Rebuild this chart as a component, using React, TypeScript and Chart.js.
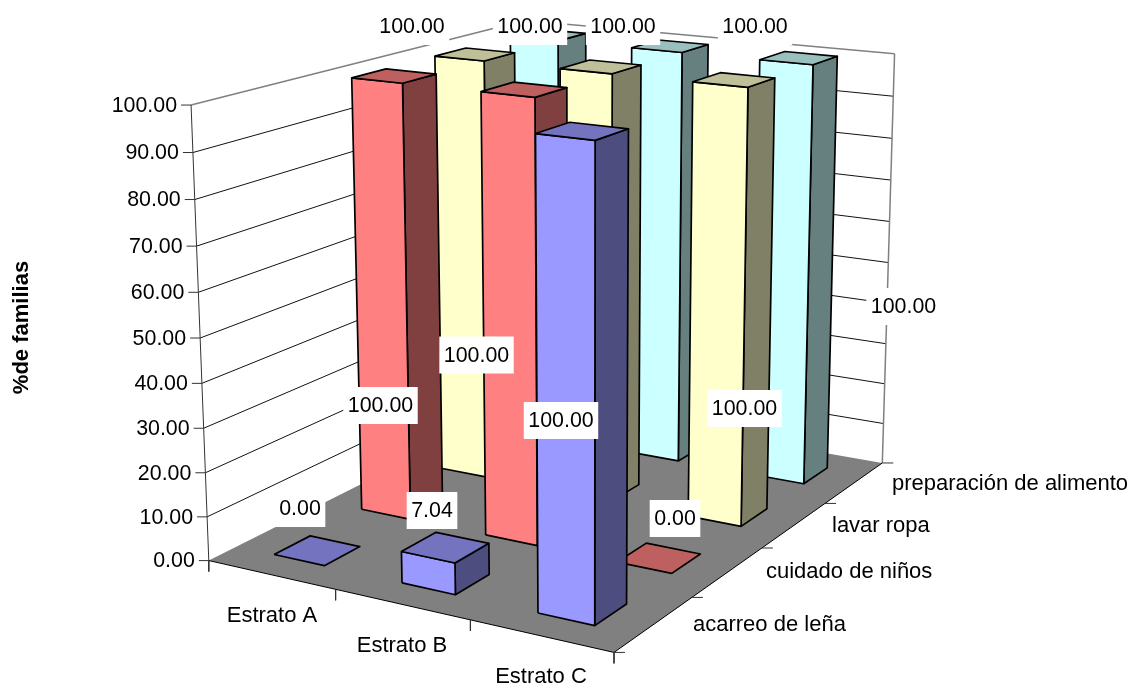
import React, { useEffect, useRef } from "react";
import { Chart, registerables } from "chart.js";

Chart.register(...registerables);

// ---- data ----
const strata = ["Estrato A", "Estrato B", "Estrato C"];
const seriesNames = ["acarreo de leña", "cuidado de niños", "lavar ropa", "preparación de alimento"];
const acarreo = [0.0, 7.04, 100.0];
const cuidado = [100.0, 100.0, 0.0];
const lavar = [100.0, 100.0, 100.0];
const preparacion = [100.0, 100.0, 100.0];
const valueTicks = [0, 10, 20, 30, 40, 50, 60, 70, 80, 90, 100];
const axisTitle = "%de familias";

// ---- styles ----
const W = 1131;
const H = 685;
const FONT = '"Liberation Sans", Arial, sans-serif';
const FS_TEXT = 22;
const FS_NUM = 21.4;
const faceColors = [
  { front: "#9999FF", top: "#7373BF", side: "#4D4D80" },
  { front: "#FF8080", top: "#BF6060", side: "#804040" },
  { front: "#FFFFCC", top: "#BFBF99", side: "#808066" },
  { front: "#CCFFFF", top: "#99BFBF", side: "#668080" },
];
const GAP_U = [0.3, 0.7];
const GAP_V = [0.3, 0.7];

// camera calibration: [strata pos, series pos, value, px, py]
const calib = [
  [0, 0, 0, 209.3, 560],
  [3, 0, 0, 613.3, 651.7],
  [3, 4, 0, 880, 462.7],
  [0, 4, 0, 528.6, 398.4],
  [0, 0, 100, 190.7, 105],
  [0, 4, 100, 522, 21.3],
  [3, 4, 100, 894, 52.7],
  [1, 0, 0, 335.7, 590],
  [2, 0, 0, 470, 620.7],
  [3, 1, 0, 692, 597.7],
  [3, 2, 0, 762, 547.7],
  [3, 3, 0, 823, 502],
  [0, 0, 10, 207.5, 516.7],
  [0, 0, 20, 205.5, 472.7],
  [0, 0, 80, 195, 200],
  [0, 0, 90, 193.3, 152.7],
  [2.3, 0.3, 0, 537.3, 612.7],
  [2.7, 0.3, 0, 594, 625],
  [2.7, 0.7, 0, 626, 604],
  [2.3, 0.3, 100, 537, 133],
  [2.7, 0.3, 100, 596, 140],
  [2.7, 0.7, 100, 629.3, 128.3],
  [2.3, 0.7, 100, 570.7, 122.3],
  [0.3, 1.3, 100, 351.7, 77.7],
  [0.7, 1.3, 100, 402.3, 83.3],
  [0.7, 1.7, 100, 436, 75],
  [0.3, 1.7, 100, 385.7, 69],
  [0.3, 1.3, 0, 361, 509.3],
  [2.3, 3.3, 100, 759.3, 60],
  [2.7, 3.3, 100, 813.3, 65],
  [2.7, 3.7, 100, 836.7, 56.7],
  [2.3, 3.7, 100, 785, 51.7],
  [2.7, 3.3, 0, 801.7, 483.3],
  [2.7, 3.7, 0, 825, 468.3],
  [2.3, 3.3, 0, 766.7, 477.7],
  [2.3, 2.3, 100, 692.7, 81],
  [2.7, 2.3, 100, 748.3, 87.3],
  [2.7, 2.7, 100, 775.7, 78.3],
  [2.3, 2.7, 100, 720, 72.3],
  [2.3, 2.3, 0, 687.3, 518.3],
  [2.7, 2.3, 0, 740, 526],
  [2.7, 2.7, 0, 765.7, 509],
  [0.3, 0.3, 0, 273, 554.3],
  [0.7, 0.3, 0, 324.3, 565.7],
  [0.7, 0.7, 0, 359.3, 546.7],
  [0.3, 0.7, 0, 310, 536],
];

// label box centres per [series][stratum]
const labelCentres = [
  [[300, 508.5], [432, 510.5], [561, 420.5]],
  [[380.5, 405.5], [476.5, 355], [675, 518.5]],
  [[412, 26.5], [530, 26.5], [744.5, 408.5]],
  [[623, 26.5], [755, 26.5], [903.5, 306.5]],
];
const strataLabelPos = [[272, 615.5], [402, 645.5], [541, 676.5]];
const seriesLabelPos = [[693, 624.5], [766, 571.5], [832, 525.5], [892, 483.5]];

function solve(A: number[][], b: number[]) {
  const n = b.length;
  const M = A.map((r, i) => [...r, b[i]]);
  for (let c = 0; c < n; c++) {
    let p = c;
    for (let r = c + 1; r < n; r++) if (Math.abs(M[r][c]) > Math.abs(M[p][c])) p = r;
    [M[c], M[p]] = [M[p], M[c]];
    for (let r = 0; r < n; r++) {
      if (r === c) continue;
      const f = M[r][c] / M[c][c];
      for (let k = c; k <= n; k++) M[r][k] -= f * M[c][k];
    }
  }
  return M.map((r, i) => r[n] / r[i]);
}

function fitCamera() {
  const rows: number[][] = [];
  const rhs: number[] = [];
  for (const [u, v, val, x, y] of calib) {
    const h = val / 100;
    rows.push([u, v, h, 1, 0, 0, 0, 0, -x * u, -x * v, -x * h]);
    rhs.push(x);
    rows.push([0, 0, 0, 0, u, v, h, 1, -y * u, -y * v, -y * h]);
    rhs.push(y);
  }
  const n = 11;
  const A = Array.from({ length: n }, (_, i) =>
    Array.from({ length: n }, (_, j) => rows.reduce((s, r) => s + r[i] * r[j], 0))
  );
  const b = Array.from({ length: n }, (_, i) => rows.reduce((s, r, k) => s + r[i] * rhs[k], 0));
  return solve(A, b);
}

const cam = fitCamera();
function project(u: number, v: number, val: number) {
  const h = val / 100;
  const w = cam[8] * u + cam[9] * v + cam[10] * h + 1;
  return {
    x: (cam[0] * u + cam[1] * v + cam[2] * h + cam[3]) / w,
    y: (cam[4] * u + cam[5] * v + cam[6] * h + cam[7]) / w,
  };
}

type Pt = { x: number; y: number };
function buildDatasets() {
  const out: any[] = [];
  const poly = (pts: Pt[], fill: string, stroke: string, width: number) =>
    out.push({
      data: [...pts, pts[0]],
      showLine: true,
      fill: "shape",
      backgroundColor: fill,
      borderColor: stroke,
      borderWidth: width,
      pointRadius: 0,
      tension: 0,
      borderJoinStyle: "round",
    });
  const line = (pts: Pt[], stroke: string, width = 1) =>
    out.push({
      data: pts,
      showLine: true,
      fill: false,
      borderColor: stroke,
      borderWidth: width,
      pointRadius: 0,
      tension: 0,
    });

  const nu = strata.length;
  const nv = seriesNames.length;
  // floor
  poly(
    [project(0, 0, 0), project(nu, 0, 0), project(nu, nv, 0), project(0, nv, 0)],
    "#808080",
    "rgba(0,0,0,0)",
    0
  );
  // wall gridlines
  for (const t of valueTicks) {
    if (t === 0) continue;
    const c = t === 100 ? "#808080" : "#111111";
    const w = t === 100 ? 1.5 : 1;
    line([project(0, 0, t), project(0, nv, t)], c, w);
    line([project(0, nv, t), project(nu, nv, t)], c, w);
  }
  const top = valueTicks[valueTicks.length - 1];
  line([project(nu, nv, 0), project(nu, nv, top)], "#808080", 1.5);
  line([project(0, 0, 0), project(0, 0, top)], "#333333", 1);
  // floor front edges
  line([project(0, 0, 0), project(nu, 0, 0)], "#000000", 1);
  line([project(nu, 0, 0), project(nu, nv, 0)], "#000000", 1);
  // value ticks
  for (const t of valueTicks) {
    const p = project(0, 0, t);
    line([p, { x: p.x - 10, y: p.y }], "#333333", 1);
  }
  // strata ticks
  for (let u = 0; u <= nu; u++) {
    const p = project(u, 0, 0);
    line([p, { x: p.x, y: p.y + 11 }], "#333333", 1);
  }
  // series ticks
  for (let v = 0; v <= nv; v++) {
    const p = project(nu, v, 0);
    line([p, { x: p.x + 11, y: p.y }], "#333333", 1);
  }
  // bars, back to front
  const all = [acarreo, cuidado, lavar, preparacion];
  for (let v = nv - 1; v >= 0; v--) {
    for (let u = 0; u < nu; u++) {
      const val = all[v][u];
      const col = faceColors[v];
      const u0 = u + GAP_U[0];
      const u1 = u + GAP_U[1];
      const v0 = v + GAP_V[0];
      const v1 = v + GAP_V[1];
      if (val > 0) {
        poly(
          [project(u1, v0, 0), project(u1, v1, 0), project(u1, v1, val), project(u1, v0, val)],
          col.side,
          "#000000",
          1.7
        );
        poly(
          [project(u0, v0, 0), project(u1, v0, 0), project(u1, v0, val), project(u0, v0, val)],
          col.front,
          "#000000",
          1.7
        );
      }
      poly(
        [project(u0, v0, val), project(u1, v0, val), project(u1, v1, val), project(u0, v1, val)],
        col.top,
        "#000000",
        1.7
      );
    }
  }
  const n = out.length;
  out.forEach((d, i) => (d.order = n - i));
  return out;
}

const textPlugin = {
  id: "texts",
  afterDatasetsDraw(chart: any) {
    const { ctx, scales } = chart;
    const X = (v: number) => scales.x.getPixelForValue(v);
    const Y = (v: number) => scales.y.getPixelForValue(v);
    ctx.save();
    ctx.fillStyle = "#000000";
    ctx.textBaseline = "middle";
    // value axis
    ctx.font = `${FS_NUM}px ${FONT}`;
    ctx.textAlign = "right";
    for (const t of valueTicks) {
      const p = project(0, 0, t);
      ctx.fillText(t.toFixed(2), X(p.x - 14), Y(p.y + 1));
    }
    // strata axis
    ctx.font = `${FS_TEXT}px ${FONT}`;
    ctx.textAlign = "center";
    strata.forEach((s, i) => ctx.fillText(s, X(strataLabelPos[i][0]), Y(strataLabelPos[i][1])));
    // series axis
    ctx.textAlign = "left";
    seriesNames.forEach((s, i) => ctx.fillText(s, X(seriesLabelPos[i][0]), Y(seriesLabelPos[i][1])));
    // data labels
    ctx.font = `${FS_NUM}px ${FONT}`;
    ctx.textAlign = "center";
    [acarreo, cuidado, lavar, preparacion].forEach((vals, r) =>
      vals.forEach((val, c) => {
        const [cx, cy] = labelCentres[r][c];
        const txt = val.toFixed(2);
        const bw = ctx.measureText(txt).width + 9;
        ctx.fillStyle = "#FFFFFF";
        ctx.fillRect(X(cx) - bw / 2, Y(cy) - 18.5, bw, 37);
        ctx.fillStyle = "#000000";
        ctx.fillText(txt, X(cx), Y(cy) + 1);
      })
    );
    // axis title
    ctx.font = `bold 22px ${FONT}`;
    ctx.translate(X(22), Y(327.5));
    ctx.rotate(-Math.PI / 2);
    ctx.fillText(axisTitle, 0, 0);
    ctx.restore();
  },
};

export default function App() {
  const ref = useRef<HTMLCanvasElement>(null);
  useEffect(() => {
    document.body.style.margin = "0";
    const chart = new Chart(ref.current as HTMLCanvasElement, {
      type: "scatter",
      data: { datasets: buildDatasets() },
      options: {
        responsive: false,
        animation: false,
        layout: { padding: 0 },
        plugins: { legend: { display: false }, tooltip: { enabled: false } },
        events: [],
        scales: {
          x: { type: "linear", min: 0, max: W, display: false },
          y: { type: "linear", min: 0, max: H, reverse: true, display: false },
        },
      },
      plugins: [textPlugin],
    } as any);
    return () => chart.destroy();
  }, []);
  return <canvas ref={ref} width={W} height={H} style={{ display: "block" }} />;
}
